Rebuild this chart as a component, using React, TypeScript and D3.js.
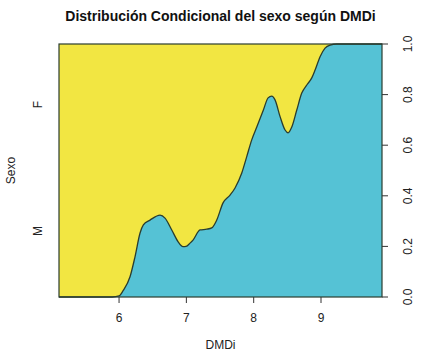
import React from "react";
import * as d3 from "d3";

const title = "Distribución Condicional del sexo según DMDi";
const xLabel = "DMDi";
const yLabel = "Sexo";
const categories = ["M", "F"];
const marginalM = 0.522;
const xDomain = [5.108, 9.906];
const xTicks = [6, 7, 8, 9];
const yTicks = [0, 0.2, 0.4, 0.6, 0.8, 1.0];

const dmdi = [5.108, 5.9, 6.0, 6.063, 6.163, 6.237, 6.312, 6.361, 6.46, 6.609, 6.683, 6.783, 6.876, 6.95, 6.995, 7.054, 7.099, 7.203, 7.303, 7.377, 7.451, 7.545, 7.649, 7.723, 7.823, 7.897, 7.971, 8.046, 8.144, 8.214, 8.268, 8.317, 8.392, 8.466, 8.511, 8.566, 8.64, 8.714, 8.789, 8.863, 8.912, 8.986, 9.06, 9.135, 9.234, 9.906];
const probM = [0, 0, 0.004, 0.026, 0.08, 0.159, 0.253, 0.285, 0.304, 0.324, 0.312, 0.265, 0.219, 0.199, 0.2, 0.213, 0.225, 0.265, 0.268, 0.273, 0.304, 0.372, 0.403, 0.431, 0.49, 0.555, 0.621, 0.672, 0.739, 0.787, 0.794, 0.779, 0.713, 0.66, 0.649, 0.672, 0.739, 0.806, 0.838, 0.866, 0.897, 0.95, 0.984, 0.996, 1.0, 1.0];

const W = 425, H = 356;
const L = 59, R = 382, T = 44, B = 297;
const yellow = "#f2e642";
const cyan = "#55c2d5";
const stroke = "#2a3d2f";
const font = "'Liberation Sans', Arial, Helvetica, sans-serif";

export default function App() {
  const x = d3.scaleLinear().domain(xDomain).range([L, R]);
  const y = d3.scaleLinear().domain([0, 1]).range([B, T]);
  const pts = dmdi.map((d, i) => [d, probM[i]] as [number, number]);
  const area = d3.area<[number, number]>()
    .x(d => x(d[0])).y0(y(0)).y1(d => y(d[1]))
    .curve(d3.curveMonotoneX);
  const line = d3.line<[number, number]>()
    .x(d => x(d[0])).y(d => y(d[1]))
    .curve(d3.curveMonotoneX);
  const catPos = [marginalM / 2, marginalM + (1 - marginalM) / 2];
  return (
    <svg width={W} height={H} style={{ position: "absolute", left: 0, top: 0, background: "#fff" }} fontFamily={font}>
      <rect x={0} y={0} width={W} height={H} fill="#fff" />
      <text x={(L + R) / 2} y={21} textAnchor="middle" fontWeight="bold" fontSize={14} fill="#111">{title}</text>
      <rect x={L} y={T} width={R - L} height={B - T} fill={yellow} />
      <path d={area(pts) || ""} fill={cyan} />
      <path d={line(pts) || ""} fill="none" stroke={stroke} strokeWidth={1.3} />
      <rect x={L} y={T} width={R - L} height={B - T} fill="none" stroke={stroke} strokeWidth={1.2} />
      {xTicks.map(t => (
        <g key={t}>
          <line x1={x(t)} x2={x(t)} y1={B} y2={B + 6} stroke="#333" />
          <text x={x(t)} y={322} textAnchor="middle" fontSize={12} fill="#222">{t}</text>
        </g>
      ))}
      <text x={(L + R) / 2} y={349} textAnchor="middle" fontSize={12} fill="#222">{xLabel}</text>
      {yTicks.map(t => (
        <g key={t}>
          <line x1={R} x2={R + 6} y1={y(t)} y2={y(t)} stroke="#333" />
          <text transform={`translate(${412},${y(t)}) rotate(-90)`} textAnchor="middle" fontSize={12} fill="#222">{t.toFixed(1)}</text>
        </g>
      ))}
      {categories.map((c, i) => (
        <text key={c} transform={`translate(${42},${y(catPos[i])}) rotate(-90)`} textAnchor="middle" fontSize={12} fill="#222">{c}</text>
      ))}
      <text transform={`translate(${15},${(T + B) / 2}) rotate(-90)`} textAnchor="middle" fontSize={12} fill="#222">{yLabel}</text>
    </svg>
  );
}
